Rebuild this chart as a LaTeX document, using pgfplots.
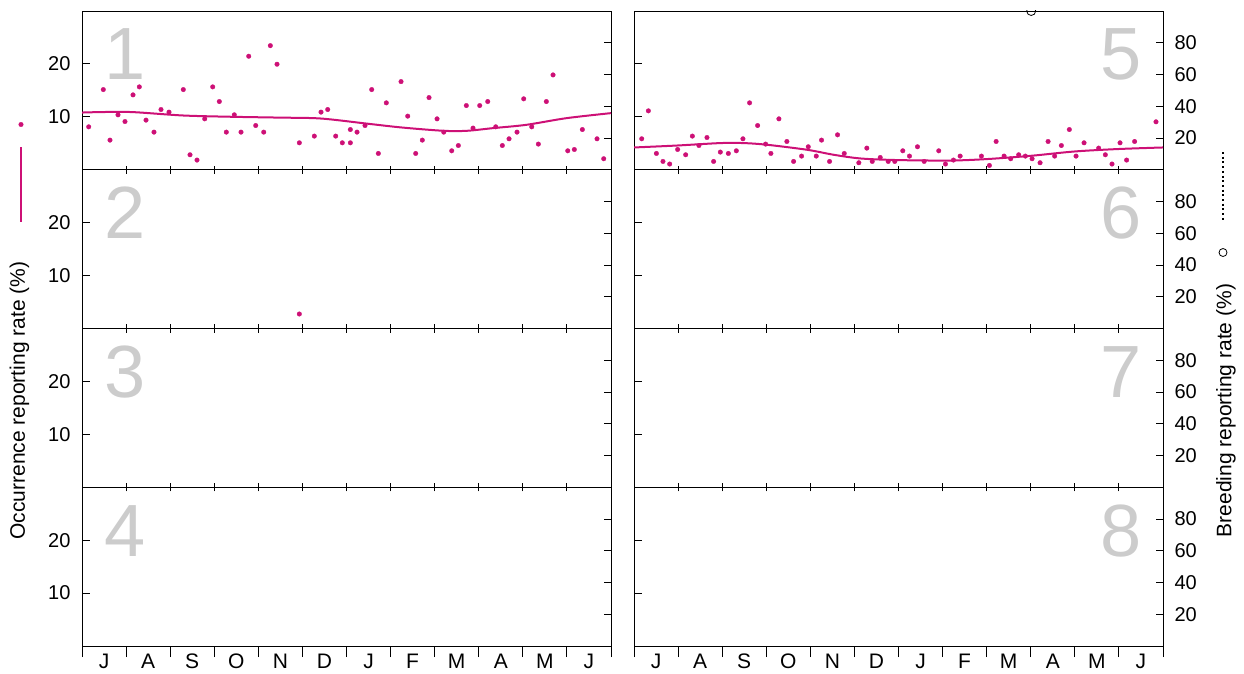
\documentclass[border=0pt]{standalone}
\usepackage{pgfplots}
\pgfplotsset{compat=1.18}
\usepackage{pgfplotstable}
\usepackage{fontspec}
\setmainfont{Liberation Sans}
\definecolor{dp}{RGB}{205,16,118}
\definecolor{numgray}{RGB}{204,204,204}

\pgfplotstableread{
m v
0.152 8.11
0.483 15.15
0.635 5.60
0.817 10.38
0.975 9.11
1.157 14.15
1.300 15.66
1.452 9.38
1.633 7.11
1.792 11.38
1.974 10.89
2.298 15.15
2.450 2.83
2.609 1.83
2.784 9.62
2.965 15.66
3.115 12.89
3.274 7.11
3.455 10.38
3.607 7.11
3.782 21.45
3.941 8.36
4.122 7.11
4.272 23.45
4.424 19.94
4.930 5.09
5.270 6.36
5.422 10.89
5.574 11.38
5.755 6.36
5.905 5.09
6.087 5.09
6.087 7.60
6.239 7.11
6.420 8.36
6.572 15.15
6.722 3.08
6.903 12.64
7.237 16.66
7.389 10.13
7.570 3.08
7.720 5.60
7.872 13.64
8.054 9.62
8.206 7.11
8.387 3.58
8.537 4.58
8.718 12.13
8.870 7.87
9.022 12.13
9.204 12.89
9.385 8.11
9.535 4.58
9.687 5.85
9.868 7.11
10.020 13.40
10.202 8.11
10.352 4.85
10.533 12.89
10.685 17.92
11.019 3.58
11.168 3.83
11.350 7.60
11.683 5.85
11.835 2.08
}\occone

\pgfplotstableread{
m v
0 10.81
0.5 10.91
1.16 10.89
2.3 10.25
3.45 10.0
4.5 9.85
5.42 9.68
6.5 8.68
7.26 7.98
8.2 7.36
8.73 7.36
9.33 7.87
10.08 8.49
10.99 9.75
12 10.70
}\fitone

\pgfplotstableread{
m v
4.930 2.74
}\occtwo

\pgfplotstableread{
m v
0.175 5.85
0.326 11.13
0.508 3.08
0.657 1.57
0.809 1.08
0.990 3.83
1.172 2.83
1.324 6.36
1.473 4.58
1.655 6.09
1.806 1.57
1.958 3.34
2.140 3.08
2.321 3.58
2.471 5.85
2.622 12.64
2.804 8.36
2.985 4.85
3.105 3.08
3.287 9.62
3.468 5.34
3.620 1.57
3.801 2.58
3.953 4.34
4.134 2.58
4.254 5.60
4.436 1.57
4.617 6.60
4.769 3.08
5.100 1.32
5.281 4.09
5.404 1.57
5.585 2.32
5.766 1.57
5.916 1.57
6.097 3.58
6.249 2.58
6.430 4.34
6.582 1.57
6.913 3.58
7.065 1.08
7.246 1.83
7.398 2.58
7.881 2.58
8.062 0.81
8.214 5.34
8.395 2.58
8.545 2.08
8.726 2.83
8.878 2.58
9.030 2.08
9.211 1.32
9.393 5.34
9.542 2.58
9.694 4.58
9.875 7.60
10.027 2.58
10.209 5.09
10.540 4.09
10.692 2.83
10.843 1.08
11.025 5.09
11.174 1.83
11.356 5.34
11.841 9.06
}\occfive

\pgfplotstableread{
m v
0 4.21
0.98 4.58
1.96 5.04
2.49 5.04
3.02 4.72
3.93 3.77
4.53 2.83
5.14 2.13
5.97 1.83
7.18 1.74
8.01 2.02
9.01 2.64
9.99 3.45
10.97 3.91
12 4.21
}\fitfive

\pgfplotstableread{
m v
9.01 100
}\brdfive

\tikzset{pnum/.style={font=\fontsize{74}{74}\selectfont, text=numgray, inner sep=0pt}}

\pgfplotsset{
  base/.style={scale only axis, width=529pt, height=158.75pt, xmin=0, xmax=12,
    anchor=south west, axis line style={line width=0.9pt, black},
    every tick/.style={black, line width=0.9pt},
    tick label style={font=\fontsize{20}{23}\selectfont},
    /pgf/number format/assume math mode=true},
  panel/.style={base, ymin=0, ymax=30, ytick=\empty, xtick={0,...,12},
    xticklabels={,,,,,,,,,,,,},
    xtick pos=bottom, tick align=center, major tick length=8pt},
  bottompanel/.style={panel, tick align=outside, major tick length=11pt,
    extra x ticks={0.5,1.5,...,11.5},
    extra x tick labels={J,A,S,O,N,D,J,F,M,A,M,J},
    extra x tick style={major tick length=0pt, tick style={draw=none},
      xticklabel style={font=\fontsize{21}{24}\selectfont, yshift=-4.5pt}}},
  yleft/.style={base, ymin=0, ymax=30, xtick=\empty, ytick={10,20}, ytick pos=left,
    tick align=inside, major tick length=7.5pt, axis line style={draw=none},
    yticklabel={\pgfmathprintnumber{\tick}\hspace*{8pt}}},
  yright/.style={base, ymin=0, ymax=100, xtick=\empty, ytick={20,40,60,80}, ytick pos=right,
    tick align=inside, major tick length=7.5pt, axis line style={draw=none},
    yticklabel={\hspace*{8pt}\pgfmathprintnumber{\tick}}},
  noylabels/.style={yticklabels={,,,,}},
  occdot/.style={only marks, color=dp, mark=*, mark size=2.3pt, mark options={solid, draw=dp, fill=dp, line width=0.3pt}},
  fitline/.style={color=dp, line width=2pt, smooth, no marks},
}

\begin{document}
\begin{tikzpicture}[x=1pt,y=1pt]
\useasboundingbox (0,0) rectangle (1244,673);

% ---------- left column ----------
% panel 1
\begin{axis}[panel, at={(82pt,503.25pt)}]
\addplot[occdot] table {\occone};
\addplot[fitline] table {\fitone};
\node[pnum, anchor=base west, xshift=22pt, yshift=-69pt] at (rel axis cs:0,1) {1};
\end{axis}
\begin{axis}[yleft, at={(82pt,503.25pt)}]\end{axis}
\begin{axis}[yright, noylabels, at={(82pt,503.25pt)}]\end{axis}

% panel 2
\begin{axis}[panel, at={(82pt,344.5pt)}]
\addplot[occdot] table {\occtwo};
\node[pnum, anchor=base west, xshift=22pt, yshift=-69pt] at (rel axis cs:0,1) {2};
\end{axis}
\begin{axis}[yleft, at={(82pt,344.5pt)}]\end{axis}
\begin{axis}[yright, noylabels, at={(82pt,344.5pt)}]\end{axis}

% panel 3
\begin{axis}[panel, at={(82pt,185.75pt)}]
\node[pnum, anchor=base west, xshift=22pt, yshift=-69pt] at (rel axis cs:0,1) {3};
\end{axis}
\begin{axis}[yleft, at={(82pt,185.75pt)}]\end{axis}
\begin{axis}[yright, noylabels, at={(82pt,185.75pt)}]\end{axis}

% panel 4
\begin{axis}[bottompanel, at={(82pt,27pt)}]
\node[pnum, anchor=base west, xshift=22pt, yshift=-69pt] at (rel axis cs:0,1) {4};
\end{axis}
\begin{axis}[yleft, at={(82pt,27pt)}]\end{axis}
\begin{axis}[yright, noylabels, at={(82pt,27pt)}]\end{axis}

% ---------- right column ----------
% panel 5
\begin{axis}[panel, at={(634pt,503.25pt)}]
\addplot[occdot] table {\occfive};
\addplot[fitline] table {\fitfive};
\node[pnum, anchor=base east, xshift=-21pt, yshift=-69pt] at (rel axis cs:1,1) {5};
\end{axis}
\begin{axis}[yleft, noylabels, at={(634pt,503.25pt)}]\end{axis}
\begin{axis}[yright, at={(634pt,503.25pt)}, clip marker paths=true]
\addplot[only marks, mark=o, mark size=4.5pt, mark options={black, line width=0.8pt}] table {\brdfive};
\end{axis}

% panel 6
\begin{axis}[panel, at={(634pt,344.5pt)}]
\node[pnum, anchor=base east, xshift=-21pt, yshift=-69pt] at (rel axis cs:1,1) {6};
\end{axis}
\begin{axis}[yleft, noylabels, at={(634pt,344.5pt)}]\end{axis}
\begin{axis}[yright, at={(634pt,344.5pt)}]\end{axis}

% panel 7
\begin{axis}[panel, at={(634pt,185.75pt)}]
\node[pnum, anchor=base east, xshift=-21pt, yshift=-69pt] at (rel axis cs:1,1) {7};
\end{axis}
\begin{axis}[yleft, noylabels, at={(634pt,185.75pt)}]\end{axis}
\begin{axis}[yright, at={(634pt,185.75pt)}]\end{axis}

% panel 8
\begin{axis}[bottompanel, at={(634pt,27pt)}]
\node[pnum, anchor=base east, xshift=-21pt, yshift=-69pt] at (rel axis cs:1,1) {8};
\end{axis}
\begin{axis}[yleft, noylabels, at={(634pt,27pt)}]\end{axis}
\begin{axis}[yright, at={(634pt,27pt)}]\end{axis}

% ---------- outer titles and legend keys ----------
\begin{axis}[at={(0pt,0pt)}, anchor=south west, scale only axis, width=1244pt, height=673pt,
  xmin=0, xmax=1244, ymin=0, ymax=673, y dir=reverse, hide axis, clip=false]
\addplot[only marks, color=dp, mark=*, mark size=2.3pt, mark options={solid, draw=dp, fill=dp, line width=0.3pt}] coordinates {(21,124.5)};
\addplot[color=dp, line width=2pt] coordinates {(21,147) (21,222)};
\addplot[black, line width=2pt, dash pattern=on 2pt off 2.7pt] coordinates {(1223,152) (1223,222)};
\addplot[only marks, mark=o, mark size=4pt, mark options={black, line width=0.8pt}] coordinates {(1223,252.5)};
\node[rotate=90, font=\fontsize{21}{24}\selectfont] at (axis cs:19.5,400.5) {Occurrence reporting rate (\%)};
\node[rotate=90, font=\fontsize{21}{24}\selectfont] at (axis cs:1226,410.5) {Breeding reporting rate (\%)};
\end{axis}
\end{tikzpicture}
\end{document}
